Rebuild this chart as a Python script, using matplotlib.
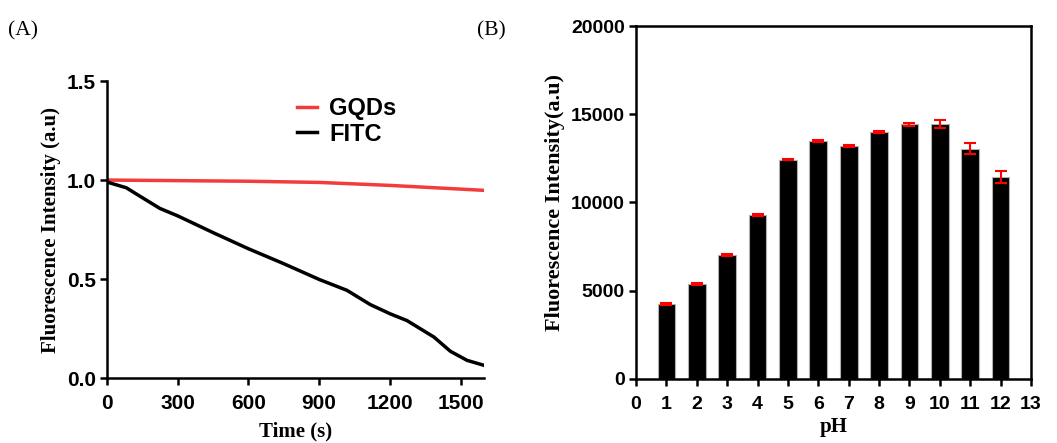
import matplotlib

matplotlib.use("Agg")
import matplotlib.pyplot as plt
import numpy as np

# photostability (panel A)
time_s = [0, 82, 139, 224, 302, 451, 600, 749, 902, 1018, 1117, 1202, 1273, 1387, 1457, 1528, 1600]
fitc = [0.99, 0.961, 0.919, 0.857, 0.818, 0.734, 0.653, 0.578, 0.497, 0.443, 0.371,
        0.324, 0.290, 0.207, 0.135, 0.089, 0.064]
gqd_time = [0, 300, 600, 900, 1200, 1600]
gqds = [1.0, 0.997, 0.994, 0.988, 0.973, 0.948]

# pH dependence (panel B)
ph = [1, 2, 3, 4, 5, 6, 7, 8, 9, 10, 11, 12]
intensity = [4250, 5400, 7020, 9300, 12430, 13480, 13220, 13990, 14440, 14460, 13050, 11440]
err = [70, 50, 50, 60, 40, 40, 60, 60, 80, 230, 300, 340]

SANS = "Liberation Sans"
SERIF = "Liberation Serif"
RED = "#f23c3c"

fig = plt.figure(figsize=(10.57, 4.43), dpi=100)
axA = fig.add_axes([0.1012, 0.1467, 0.3568, 0.6703])
axB = fig.add_axes([0.6017, 0.1445, 0.3737, 0.7968])

# --- panel A ---
axA.plot(gqd_time, gqds, color=RED, lw=2.5, label="GQDs")
axA.plot(time_s, fitc, color="black", lw=2.5, label="FITC")
axA.set_xlim(0, 1600)
axA.set_ylim(0, 1.5)
axA.set_xticks([0, 300, 600, 900, 1200, 1500])
axA.set_yticks([0, 0.5, 1.0, 1.5])
axA.set_yticklabels(["0.0", "0.5", "1.0", "1.5"])
for s in ("top", "right"):
    axA.spines[s].set_visible(False)
axA.set_xlabel("Time (s)", family=SERIF, fontweight="bold", fontsize=15, labelpad=6)
axA.set_ylabel("Fluorescence Intensity (a.u)", family=SERIF, fontweight="bold", fontsize=15, labelpad=4)
axA.legend(loc="upper left", bbox_to_anchor=(0.504, 0.945), frameon=False,
           borderpad=0, borderaxespad=0,
           prop={"family": SANS, "weight": "bold", "size": 17},
           handlelength=0.85, handletextpad=0.5, labelspacing=0.1)

# --- panel B ---
axB.bar(ph, intensity, width=0.58, color="black", edgecolor="#b0b0b0", linewidth=0.8, zorder=2)
axB.errorbar(ph, intensity, yerr=err, fmt="none", ecolor="red", elinewidth=1.5,
             capsize=4, capthick=1.5, zorder=3)
axB.set_xlim(0, 13)
axB.set_ylim(0, 20000)
axB.set_xticks(range(0, 14))
axB.set_yticks([0, 5000, 10000, 15000, 20000])
axB.set_xlabel("pH", family=SERIF, fontweight="bold", fontsize=15, labelpad=3)
axB.set_ylabel("Fluorescence Intensity(a.u)", family=SERIF, fontweight="bold", fontsize=16, labelpad=4)

for ax, fs, xpad in ((axA, 15, 6.6), (axB, 14, 7)):
    for s in ax.spines.values():
        s.set_linewidth(1.8)
    ax.tick_params(width=1.8, length=5, direction="out", pad=3)
    ax.tick_params(axis="x", pad=xpad)
    for lab in ax.get_xticklabels() + ax.get_yticklabels():
        lab.set_family(SANS)
        lab.set_fontweight("bold")
        lab.set_fontsize(fs)

fig.text(0.0076, 0.921, "(A)", family=SERIF, fontsize=15.5)
fig.text(0.451, 0.921, "(B)", family=SERIF, fontsize=15.5)

fig.savefig("out.png", dpi=100)
